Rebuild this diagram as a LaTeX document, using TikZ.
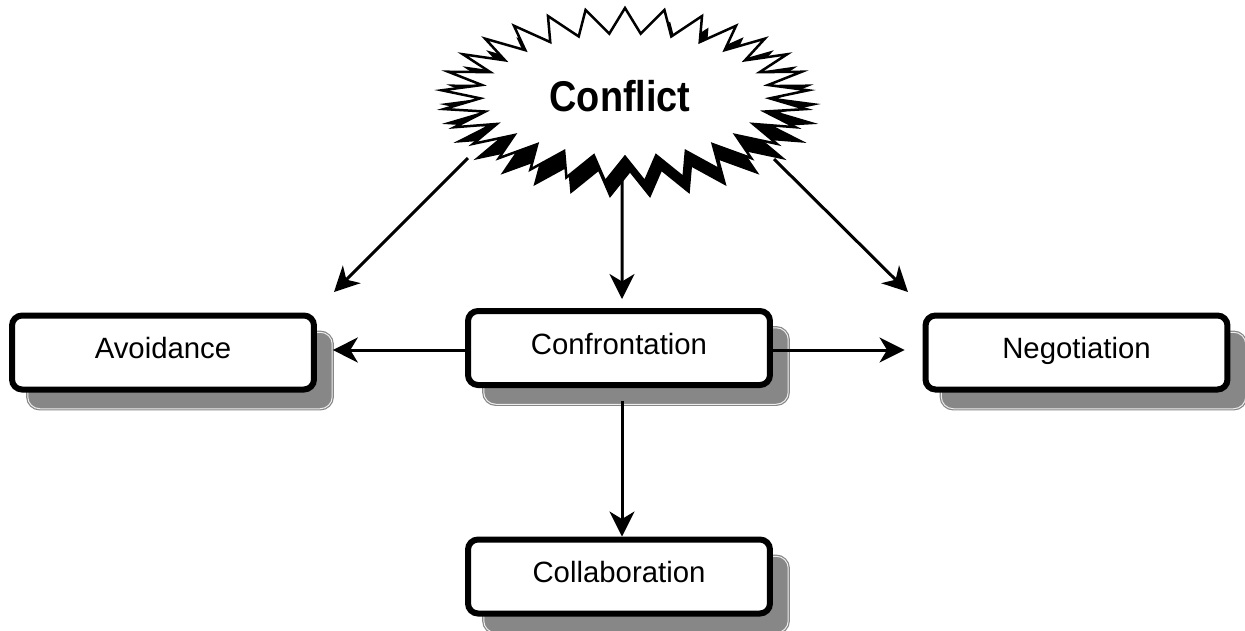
\documentclass[tikz,border=0pt]{standalone}
\usepackage{fontspec}
\setmainfont{Liberation Sans}
\usetikzlibrary{arrows.meta}
\definecolor{shadowgray}{gray}{0.53}
\begin{document}
\begin{tikzpicture}[x=0.02cm,y=-0.02cm,
  stagebox/.style={draw=black, line width=0.12cm, fill=white, rounded corners=0.2cm,
    minimum width=6.04cm, minimum height=1.48cm, inner sep=0pt,
    text height=0.44cm, text depth=0.2cm, font=\fontsize{16.7}{20}\selectfont},
  stageshadow/.style={fill=shadowgray, draw=shadowgray, line width=0.024cm,
    double=white!85!shadowgray, double distance=0.02cm, rounded corners=0.24cm,
    minimum width=6.09cm, minimum height=1.53cm, inner sep=0pt},
  link/.style={line width=0.06cm, -{Stealth[length=0.5cm,width=0.5cm,inset=0.15cm]}},
  burstline/.style={line width=0.05cm, line join=miter},
]
\useasboundingbox (0,0) rectangle (1245,630);

% drop shadows behind the boxes
\node[stageshadow] (avsh)   at (180,370.5)  {};
\node[stageshadow] (confsh) at (636,366)    {};
\node[stageshadow] (colsh)  at (636,594.5)  {};
\node[stageshadow] (negsh)  at (1093.5,370.5) {};

% the four outcome boxes
\node[stagebox] (av)   at (163,352.5)  {Avoidance};
\node[stagebox] (conf) at (619,348)    {Confrontation};
\node[stagebox] (col)  at (619,576.5)  {Collaboration};
\node[stagebox] (neg)  at (1076.5,352.5) {Negotiation};

% burst centre; the middle arrow starts underneath the burst
\coordinate (burst) at (622,110);
\draw[link, shorten >=0.18cm] (burst) -- ([xshift=0.06cm]conf.north);

% 29-point burst: black extrusion first, then the white face
\filldraw[black, burstline, shift={(630,109)}]
  (270:183.5 and 87)
  \foreach \i [evaluate=\i as \rx using {183.5*(1-0.21*mod(\i,2))},
               evaluate=\i as \ry using {87*(1-0.29*mod(\i,2))}] in {1,...,57}
    { -- ({270+360/58*\i}:{\rx} and {\ry}) } -- cycle;
\filldraw[fill=white, draw=black, burstline, shift={(625,95)}]
  (270:183.5 and 87)
  \foreach \i [evaluate=\i as \rx using {183.5*(1-0.21*mod(\i,2))},
               evaluate=\i as \ry using {87*(1-0.29*mod(\i,2))}] in {1,...,57}
    { -- ({270+360/58*\i}:{\rx} and {\ry}) } -- cycle;

\node[inner sep=0pt, text height=0.62cm, text depth=0pt,
      font=\fontsize{24.5}{28}\bfseries\selectfont] (conflict) at (620,96)
  {\scalebox{0.88}[1]{Conflict}};

% arrows from the burst to the side outcomes
\coordinate (burstsw) at (468,158);
\coordinate (burstse) at (774,159);
\coordinate (avtip)   at (334,292);
\coordinate (negtip)  at (908,292);
\draw[link] (burstsw) -- (avtip);
\draw[link] (burstse) -- (negtip);

% arrows out of Confrontation
\draw[link] ([yshift=-0.04cm]conf.west) -- ([yshift=-0.04cm]conf.west -| avsh.east);
\draw[link, shorten >=0.36cm] ([yshift=-0.04cm]conf.east) -- ([yshift=-0.04cm]conf.east -| neg.west);
\draw[link, shorten <=0.26cm] ([xshift=0.06cm]conf.south) -- ([xshift=0.06cm]col.north);
\end{tikzpicture}
\end{document}
